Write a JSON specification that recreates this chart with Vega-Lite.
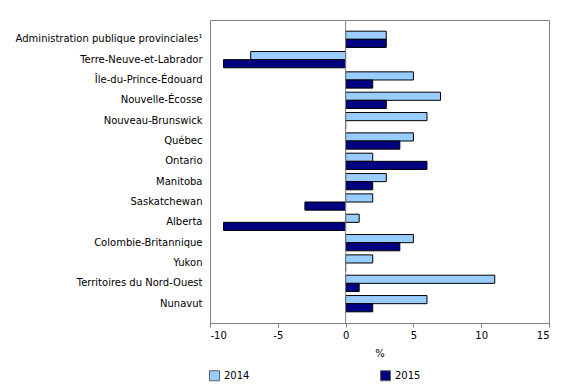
{
  "$schema": "https://vega.github.io/schema/vega-lite/v6.json",
  "autosize": "none",
  "width": 339,
  "height": 303,
  "padding": {"left": 210, "top": 20, "right": 31, "bottom": 67},
  "config": {
    "font": "DejaVu Sans",
    "view": {"stroke": "#808080", "strokeWidth": 1},
    "axis": {"labelFont": "DejaVu Sans", "titleFont": "DejaVu Sans", "labelColor": "#000000", "titleColor": "#000000", "grid": false},
    "legend": {"labelFont": "DejaVu Sans"}
  },
  "data": {
    "values": [
      {"region": "Administration publique provinciales¹", "year": "2014", "value": 3},
      {"region": "Administration publique provinciales¹", "year": "2015", "value": 3},
      {"region": "Terre-Neuve-et-Labrador", "year": "2014", "value": -7},
      {"region": "Terre-Neuve-et-Labrador", "year": "2015", "value": -9},
      {"region": "Île-du-Prince-Édouard", "year": "2014", "value": 5},
      {"region": "Île-du-Prince-Édouard", "year": "2015", "value": 2},
      {"region": "Nouvelle-Écosse", "year": "2014", "value": 7},
      {"region": "Nouvelle-Écosse", "year": "2015", "value": 3},
      {"region": "Nouveau-Brunswick", "year": "2014", "value": 6},
      {"region": "Nouveau-Brunswick", "year": "2015", "value": 0},
      {"region": "Québec", "year": "2014", "value": 5},
      {"region": "Québec", "year": "2015", "value": 4},
      {"region": "Ontario", "year": "2014", "value": 2},
      {"region": "Ontario", "year": "2015", "value": 6},
      {"region": "Manitoba", "year": "2014", "value": 3},
      {"region": "Manitoba", "year": "2015", "value": 2},
      {"region": "Saskatchewan", "year": "2014", "value": 2},
      {"region": "Saskatchewan", "year": "2015", "value": -3},
      {"region": "Alberta", "year": "2014", "value": 1},
      {"region": "Alberta", "year": "2015", "value": -9},
      {"region": "Colombie-Britannique", "year": "2014", "value": 5},
      {"region": "Colombie-Britannique", "year": "2015", "value": 4},
      {"region": "Yukon", "year": "2014", "value": 2},
      {"region": "Yukon", "year": "2015", "value": 0},
      {"region": "Territoires du Nord-Ouest", "year": "2014", "value": 11},
      {"region": "Territoires du Nord-Ouest", "year": "2015", "value": 1},
      {"region": "Nunavut", "year": "2014", "value": 6},
      {"region": "Nunavut", "year": "2015", "value": 2}
    ]
  },
  "layer": [
    {
      "mark": {"type": "bar", "stroke": "#000000", "strokeWidth": 1},
      "encoding": {
        "y": {
          "field": "region", "type": "nominal", "sort": null,
          "scale": {"paddingInner": 0.2, "paddingOuter": 0.55},
          "axis": {"title": null, "ticks": false, "domain": false, "labelFontSize": 10, "labelPadding": 8, "labelLimit": 220}
        },
        "yOffset": {"field": "year", "type": "nominal", "scale": {"paddingInner": 0}},
        "x": {
          "field": "value", "type": "quantitative",
          "scale": {"domain": [-10, 15], "nice": false},
          "axis": {"title": "%", "values": [-10, -5, 0, 5, 10, 15], "labelExpr": "'' + datum.value", "labelFontSize": 10, "titleFontSize": 10, "titleFontWeight": "normal", "domainColor": "#808080", "tickColor": "#808080", "tickSize": 4, "labelPadding": 3, "titlePadding": 8}
        },
        "color": {
          "field": "year", "type": "nominal",
          "scale": {"domain": ["2014", "2015"], "range": ["#99CCFF", "#000080"]},
          "legend": {"title": null, "orient": "none", "legendX": -1, "legendY": 350, "direction": "horizontal", "symbolType": "square", "symbolSize": 100, "symbolStrokeColor": "#606060", "symbolStrokeWidth": 1, "labelFontSize": 10, "columnPadding": 128, "labelOffset": 4}
        }
      }
    },
    {
      "mark": {"type": "rule", "color": "#808080", "strokeWidth": 1},
      "data": {"values": [{"x": 0}]},
      "encoding": {"x": {"field": "x", "type": "quantitative"}}
    }
  ]
}
